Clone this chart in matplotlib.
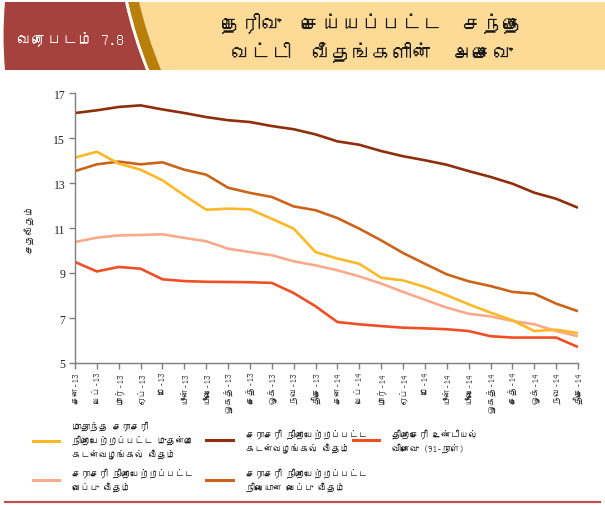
import matplotlib
matplotlib.use("Agg")
import matplotlib.pyplot as plt
from matplotlib import font_manager as fm
from matplotlib.lines import Line2D
from matplotlib.patches import Rectangle, PathPatch
from matplotlib.path import Path

# ---------------- data ----------------
months = ["சன-13", "பெப்-13", "மார்-13", "ஏப்-13", "மே-13", "யூன்-13",
          "யூலை-13", "ஓகத்-13", "செத்-13", "ஒக்-13", "நவ-13", "திசெ-13",
          "சன-14", "பெப்-14", "மார்-14", "ஏப்-14", "மே-14", "யூன்-14",
          "யூலை-14", "ஓகத்-14", "செத்-14", "ஒக்-14", "நவ-14", "திசெ-14"]

awpr = [14.13, 14.39, 13.86, 13.59, 13.12, 12.45, 11.81, 11.86, 11.83, 11.41, 10.97, 9.93,
        9.64, 9.41, 8.79, 8.67, 8.38, 8.01, 7.61, 7.24, 6.90, 6.42, 6.48, 6.33]
awlr = [16.11, 16.23, 16.38, 16.45, 16.27, 16.11, 15.93, 15.79, 15.71, 15.53, 15.39, 15.16,
        14.85, 14.70, 14.42, 14.19, 14.01, 13.81, 13.53, 13.27, 12.97, 12.57, 12.30, 11.90]
tbill = [9.49, 9.07, 9.27, 9.19, 8.72, 8.64, 8.61, 8.60, 8.59, 8.56, 8.11, 7.52,
         6.82, 6.72, 6.64, 6.57, 6.54, 6.50, 6.42, 6.19, 6.13, 6.13, 6.13, 5.71]
awdr = [10.38, 10.57, 10.67, 10.69, 10.72, 10.56, 10.41, 10.08, 9.93, 9.79, 9.52, 9.34,
        9.12, 8.85, 8.53, 8.16, 7.81, 7.46, 7.19, 7.07, 6.87, 6.72, 6.42, 6.19]
awfdr = [13.53, 13.83, 13.95, 13.83, 13.92, 13.59, 13.37, 12.79, 12.56, 12.38, 11.96, 11.79,
         11.44, 10.97, 10.45, 9.89, 9.41, 8.94, 8.63, 8.42, 8.16, 8.08, 7.64, 7.30]

yticks = [5, 7, 9, 11, 13, 15, 17]

lbl_awpr = "மாதாந்த சராசரி\nநிறையேற்றப்பட்ட முதன்மை\nகடன்வழங்கல் வீதம்"
lbl_awlr = "சராசரி நிறையேற்றப்பட்ட\nகடன்வழங்கல் வீதம்"
lbl_tbill = "திறைசேரி உண்டியல்\nவிளைவு (91-நாள்)"
lbl_awdr = "சராசரி நிறையேற்றப்பட்ட\nவைப்பு வீதம்"
lbl_awfdr = "சராசரி நிறையேற்றப்பட்ட\nநிலையான வைப்பு வீதம்"

title = "தெரிவு  செய்யப்பட்ட  சந்தை\nவட்டி  வீதங்களின்  அசைவு"
badge = "வரைபடம் 7.8"
ylabel = "சதவீதம்"

c_awpr = "#FDB827"
c_awlr = "#8E2E0B"
c_tbill = "#F04E23"
c_awdr = "#F9AA8A"
c_awfdr = "#CB6418"

# ---------------- fonts ----------------
def find_tamil_font():
    try:
        from fontTools.ttLib import TTFont
    except Exception:
        return None
    for f in fm.fontManager.ttflist:
        try:
            tt = TTFont(f.fname, fontNumber=0, lazy=True)
            cmap = tt.getBestCmap()
            if cmap and 0x0BA4 in cmap:
                return f.name
        except Exception:
            pass
    return None

tam = find_tamil_font()
sans = ([tam] if tam else []) + ["DejaVu Sans"]
serif = ["Liberation Serif", "DejaVu Serif"]
plt.rcParams['font.family'] = sans

W, H = 605, 506
fig = plt.figure(figsize=(W / 100, H / 100), dpi=100)

def fx(x):
    return x / W

def fy(y):
    return 1 - y / H

# ---------------- header ----------------
fig.add_artist(Rectangle((fx(130), fy(71)), fx(605) - fx(130), fy(3) - fy(71),
                         transform=fig.transFigure, facecolor="#FDDA96", edgecolor="none"))

def curve_poly(xt0, xt1, xb0, xb1, y0=3, y1=71):
    verts = [(fx(xt0), fy(y0)), (fx(xt1), fy(y0)),
             (fx((xt1 + xb1) / 2 - 3), fy((y0 + y1) / 2)), (fx(xb1), fy(y1)),
             (fx(xb0), fy(y1)),
             (fx((xt0 + xb0) / 2 - 3), fy((y0 + y1) / 2)), (fx(xt0), fy(y0)),
             (fx(xt0), fy(y0))]
    codes = [Path.MOVETO, Path.LINETO, Path.CURVE3, Path.CURVE3, Path.LINETO,
             Path.CURVE3, Path.CURVE3, Path.CLOSEPOLY]
    return Path(verts, codes)

fig.add_artist(PathPatch(curve_poly(128, 139, 149, 161), transform=fig.transFigure,
                         facecolor="#B8800A", edgecolor="none"))
fig.add_artist(PathPatch(curve_poly(5, 128, 5, 149), transform=fig.transFigure,
                         facecolor="white", edgecolor="none"))
fig.add_artist(PathPatch(curve_poly(5, 125, 5, 146), transform=fig.transFigure,
                         facecolor="#A5423D", edgecolor="none"))
fig.text(fx(70), fy(39), badge, color="white", fontsize=11, ha="center", va="center",
         family=sans)
fig.text(fx(372), fy(38), title, color="#1a1a1a", fontsize=14.5, ha="center", va="center",
         linespacing=1.45, family=sans)

# ---------------- axes ----------------
ax = fig.add_axes([fx(75), fy(364), fx(578) - fx(75), fy(94) - fy(364)])
x = list(range(len(months)))
lw = 1.9
ax.plot(x, awlr, color=c_awlr, lw=lw, solid_capstyle="butt")
ax.plot(x, awfdr, color=c_awfdr, lw=lw, solid_capstyle="butt")
ax.plot(x, awdr, color=c_awdr, lw=lw, solid_capstyle="butt")
ax.plot(x, awpr, color=c_awpr, lw=lw, solid_capstyle="butt")
ax.plot(x, tbill, color=c_tbill, lw=lw, solid_capstyle="butt")

ax.set_xlim(0, len(months) - 1)
ax.set_ylim(yticks[0], yticks[-1])
ax.set_yticks(yticks)
ax.set_xticks(x)
ax.set_xticklabels(months, rotation=90, fontsize=6.5, family=sans, color="#333333")
for t in ax.get_yticklabels():
    t.set_fontfamily(serif)
    t.set_fontsize(8.5)
    t.set_color("#222222")
for s in ["top", "right"]:
    ax.spines[s].set_visible(False)
for s in ["left", "bottom"]:
    ax.spines[s].set_color("#7f7f7f")
    ax.spines[s].set_linewidth(1.0)
ax.tick_params(axis="both", direction="out", length=4, width=1, color="#7f7f7f")
ax.tick_params(axis="y", pad=3)
ax.tick_params(axis="x", pad=2)
ax.set_ylabel(ylabel, fontsize=7, family=sans, labelpad=14, color="#333333")

# ---------------- legend (manual) ----------------
def leg(x0, x1, ytxt_center, yline, color, text):
    fig.add_artist(Line2D([fx(x0), fx(x1)], [fy(yline), fy(yline)], transform=fig.transFigure,
                          color=color, lw=2.2))
    fig.text(fx(x1 + 13), fy(ytxt_center), text, fontsize=6.5, ha="left", va="center",
             linespacing=1.55, color="#222222", family=sans)

leg(33, 59, 440, 441.5, c_awpr, lbl_awpr)
leg(206, 233, 441, 441, c_awlr, lbl_awlr)
leg(353, 379, 441, 441, c_tbill, lbl_tbill)
leg(33, 59, 480, 481, c_awdr, lbl_awdr)
leg(206, 233, 480, 481, c_awfdr, lbl_awfdr)

fig.add_artist(Line2D([fx(5), fx(600)], [fy(503), fy(503)], transform=fig.transFigure,
                      color="#C0504D", lw=1.6))

fig.savefig("out.png", dpi=100)
